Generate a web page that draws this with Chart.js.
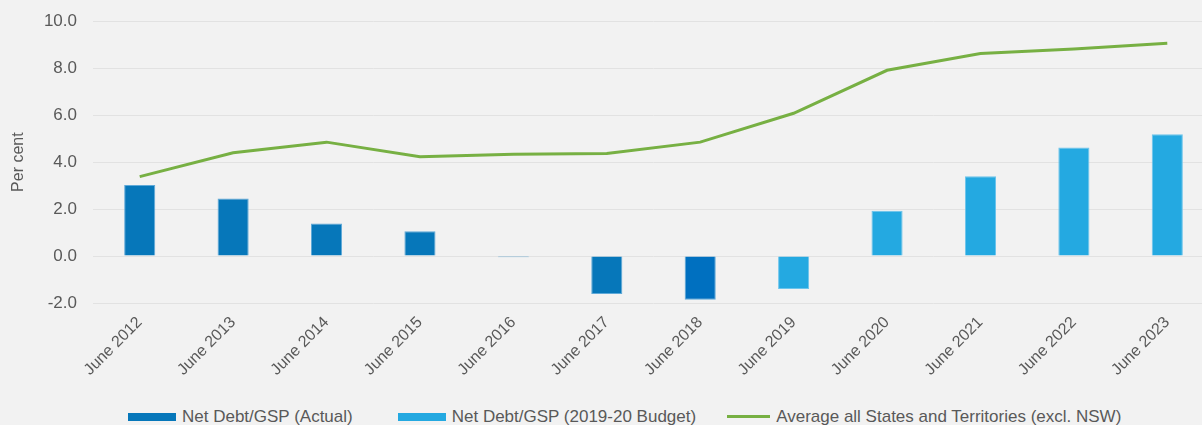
<!DOCTYPE html>
<html>
<head>
<meta charset="utf-8">
<script src="https://cdn.jsdelivr.net/npm/chart.js@4/dist/chart.umd.min.js"></script>
<style>
  html, body { margin: 0; padding: 0; background: #F2F2F2; overflow: hidden; }
  body { width: 1202px; height: 425px; position: relative; font-family: "Liberation Sans", Arial, sans-serif; }
  #wrap { position: absolute; left: 0; top: -5px; width: 1214px; height: 405px; }
  #legend { position: absolute; left: 128px; top: 408px; display: flex; align-items: center; line-height: 17px; font-size: 17px; color: #595959; white-space: nowrap; }
  .item { display: flex; align-items: center; }
  .box { width: 48px; height: 8px; margin-right: 6px; }
  .ln { width: 43px; height: 3px; margin-right: 6px; }
</style>
</head>
<body>
<div id="wrap"><canvas id="chart" width="1214" height="405"></canvas></div>
<div id="legend"></div>
<script>
const labels = ['June 2012', 'June 2013', 'June 2014', 'June 2015', 'June 2016', 'June 2017',
                'June 2018', 'June 2019', 'June 2020', 'June 2021', 'June 2022', 'June 2023'];
const actual = [3.02, 2.45, 1.39, 1.06, -0.05, -1.62, -1.86, null, null, null, null, null];
const budget = [null, null, null, null, null, null, null, -1.40, 1.93, 3.40, 4.62, 5.19];
const average = [3.38, 4.40, 4.85, 4.23, 4.33, 4.37, 4.85, 6.08, 7.91, 8.62, 8.82, 9.06];

const actualColors = ['#0677BA', '#0677BA', '#0677BA', '#0677BA', '#0677BA', '#0677BA', '#0070C0'];
const textColor = '#595959';
const fontFamily = '"Liberation Sans", Arial, sans-serif';

const ctx = document.getElementById('chart').getContext('2d');

const myChart = new Chart(ctx, {
    type: 'bar',
    data: {
        labels: labels,
        datasets: [
            {
                type: 'line',
                label: 'Average all States and Territories (excl. NSW)',
                data: average,
                borderColor: '#77B043',
                backgroundColor: '#77B043',
                borderWidth: 3,
                pointRadius: 0,
                tension: 0,
                order: 0
            },
            {
                label: 'Net Debt/GSP (Actual)',
                data: actual,
                backgroundColor: actualColors,
                borderColor: '#5FA9D8',
                borderWidth: 1,
                grouped: false,
                barPercentage: 0.333,
                categoryPercentage: 1,
                order: 1
            },
            {
                label: 'Net Debt/GSP (2019-20 Budget)',
                data: budget,
                backgroundColor: '#24A9E1',
                borderColor: '#6CC4EC',
                borderWidth: 1,
                grouped: false,
                barPercentage: 0.333,
                categoryPercentage: 1,
                order: 1
            }
        ]
    },
    options: {
        responsive: false,
        animation: false,
        layout: { padding: { top: 14, right: 0, bottom: 0, left: 0 } },
        plugins: {
            legend: { display: false },
            tooltip: { enabled: false }
        },
        scales: {
            x: {
                grid: { display: false, drawTicks: false },
                border: { display: false },
                ticks: {
                    color: textColor,
                    font: { family: fontFamily, size: 16 },
                    maxRotation: 45,
                    minRotation: 45,
                    padding: 10
                },
                afterFit: function(scale) { scale.height = 97; }
            },
            y: {
                min: -2,
                max: 10,
                grid: { color: '#E2E2E2', lineWidth: 1, drawTicks: false },
                border: { display: false },
                ticks: {
                    stepSize: 2,
                    color: textColor,
                    font: { family: fontFamily, size: 17 },
                    padding: 16,
                    callback: function(value) { return value.toFixed(1); }
                },
                title: {
                    display: true,
                    text: 'Per cent',
                    color: textColor,
                    font: { family: fontFamily, size: 16 },
                    padding: { top: 9, bottom: 0 }
                },
                afterFit: function(scale) { scale.width = 93; }
            }
        }
    }
});

// html legend, bars first then the line
const legendDiv = document.getElementById('legend');
const legendGaps = [45, 31, 0];
[1, 2, 0].forEach(function(i, k) {
    const ds = myChart.data.datasets[i];
    const item = document.createElement('div');
    item.className = 'item';
    item.style.marginRight = legendGaps[k] + 'px';
    const mark = document.createElement('span');
    mark.className = ds.type === 'line' ? 'ln' : 'box';
    mark.style.background = ds.type === 'line' ? ds.borderColor : (Array.isArray(ds.backgroundColor) ? ds.backgroundColor[0] : ds.backgroundColor);
    const txt = document.createElement('span');
    txt.textContent = ds.label;
    item.appendChild(mark);
    item.appendChild(txt);
    legendDiv.appendChild(item);
});
</script>
</body>
</html>
